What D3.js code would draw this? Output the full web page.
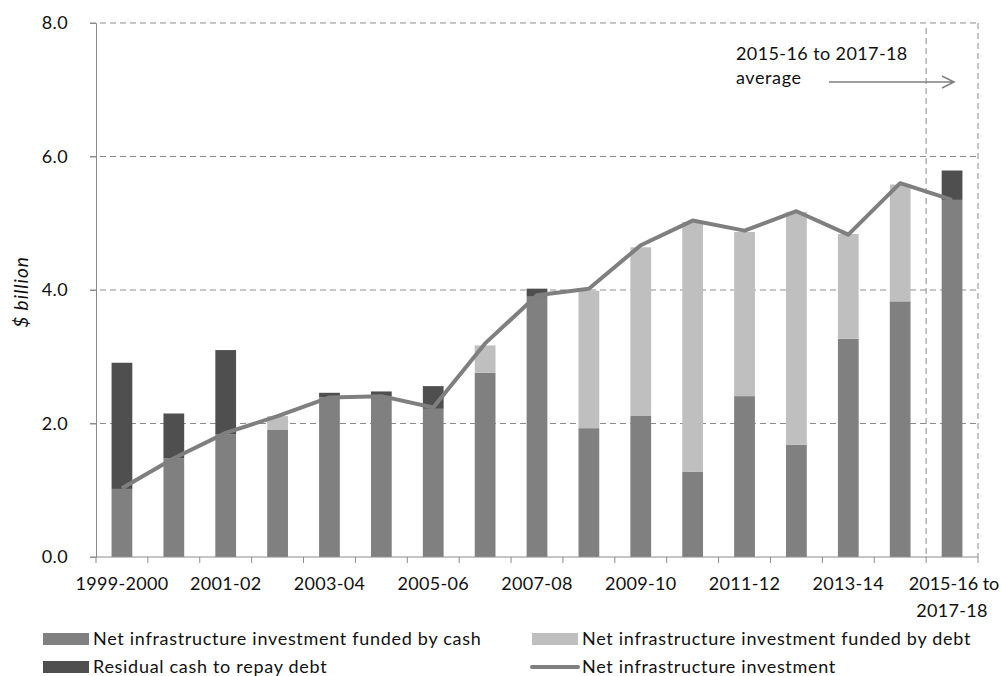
<!DOCTYPE html>
<html>
<head>
<meta charset="utf-8">
<script src="https://cdn.jsdelivr.net/npm/d3@7"></script>
<style>
  body { margin: 0; background: #fff; }
  svg { font-family: Lato, "Open Sans", sans-serif; }
</style>
</head>
<body>
<script>
// categories (financial years) and series, in $ billion
const categories = ['1999-2000', '2000-01', '2001-02', '2002-03', '2003-04', '2004-05',
  '2005-06', '2006-07', '2007-08', '2008-09', '2009-10', '2010-11', '2011-12',
  '2012-13', '2013-14', '2014-15', '2015-16 to 2017-18']
const fundedByCash = [1.02, 1.48, 1.84, 1.91, 2.39, 2.41, 2.22, 2.76, 3.90, 1.93, 2.12,
  1.28, 2.41, 1.68, 3.27, 3.83, 5.35]
const fundedByDebt = [0, 0, 0, 0.20, 0, 0, 0, 0.41, 0, 2.06, 2.52, 3.74, 2.46, 3.49,
  1.57, 1.75, 0]
const residualCash = [1.89, 0.67, 1.26, 0, 0.07, 0.07, 0.34, 0, 0.12, 0, 0, 0, 0, 0,
  0, 0, 0.44]
const netInvestment = [1.03, 1.48, 1.86, 2.11, 2.39, 2.41, 2.24, 3.20, 3.92, 4.02, 4.67,
  5.04, 4.89, 5.18, 4.83, 5.60, 5.35]
const yTicks = [0, 2, 4, 6, 8]
const labelledCategories = ['1999-2000', '2001-02', '2003-04', '2005-06', '2007-08',
  '2009-10', '2011-12', '2013-14']

const seriesNames = {
  cash: 'Net infrastructure investment funded by cash',
  debt: 'Net infrastructure investment funded by debt',
  residual: 'Residual cash to repay debt',
  net: 'Net infrastructure investment'
}
const colors = {cash: '#808080', debt: '#bfbfbf', residual: '#4f4f4f', net: '#7f7f7f'}

const width = 1001, height = 676
const margin = {top: 23, right: 23, bottom: 119, left: 96}

const svg = d3.select('body').append('svg')
  .attr('width', width)
  .attr('height', height)

// scales
const x = d3.scaleBand()
  .domain(categories)
  .range([margin.left, width - margin.right])
  .paddingInner(0.6)
  .paddingOuter(0.3)

const y = d3.scaleLinear()
  .domain([0, 8])
  .range([height - margin.bottom, margin.top])

const rows = categories.map((c, i) => ({
  cat: c, cash: fundedByCash[i], debt: fundedByDebt[i], residual: residualCash[i]
}))

// dashed gridlines
svg.append('g')
  .selectAll('line')
  .data(yTicks.filter(d => d > 0))
  .enter().append('line')
  .attr('x1', margin.left - 6)
  .attr('x2', width - margin.right)
  .attr('y1', d => y(d))
  .attr('y2', d => y(d))
  .attr('stroke', '#8c8c8c')
  .attr('stroke-width', 1)
  .attr('stroke-dasharray', '6,4')

// dashed box around the average column
const step = x.step()
const avgLeft = x(categories[categories.length - 1]) - step * x.paddingInner() / 2
svg.append('line')
  .attr('x1', avgLeft).attr('x2', avgLeft)
  .attr('y1', y(8) + 5).attr('y2', y(0))
  .attr('stroke', '#8c8c8c')
  .attr('stroke-dasharray', '6,4')
svg.append('line')
  .attr('x1', width - margin.right).attr('x2', width - margin.right)
  .attr('y1', y(8)).attr('y2', y(0))
  .attr('stroke', '#8c8c8c')
  .attr('stroke-dasharray', '6,4')

// stacked bars
const stack = d3.stack().keys(['cash', 'debt', 'residual'])
const layers = stack(rows)

svg.append('g')
  .selectAll('g')
  .data(layers)
  .enter().append('g')
  .attr('fill', d => colors[d.key])
  .selectAll('rect')
  .data(d => d)
  .enter().append('rect')
  .attr('x', d => x(d.data.cat))
  .attr('width', x.bandwidth())
  .attr('y', d => y(d[1]))
  .attr('height', d => y(d[0]) - y(d[1]))

// net investment line
const line = d3.line()
  .x((d, i) => x(categories[i]) + x.bandwidth() / 2)
  .y(d => y(d))

svg.append('path')
  .datum(netInvestment)
  .attr('d', line)
  .attr('fill', 'none')
  .attr('stroke', colors.net)
  .attr('stroke-width', 4)
  .attr('stroke-linejoin', 'round')

// y axis
const yAxis = svg.append('g')
  .attr('transform', 'translate(' + margin.left + ',0)')
  .call(d3.axisLeft(y).tickValues(yTicks).tickFormat(d3.format('.1f')).tickSize(6).tickPadding(22))
yAxis.select('.domain').attr('stroke', '#8c8c8c')
yAxis.selectAll('.tick line').attr('stroke', '#8c8c8c')
yAxis.selectAll('text')
  .attr('font-size', 18)
  .attr('letter-spacing', 0.4)
  .attr('fill', '#111')
  .attr('font-family', 'Lato, sans-serif')

svg.append('text')
  .attr('transform', 'translate(28,' + (y(4) + 2) + ') rotate(-90)')
  .attr('text-anchor', 'middle')
  .attr('font-size', 19)
  .attr('letter-spacing', 1)
  .attr('font-style', 'italic')
  .attr('fill', '#111')
  .text('$ billion')

// x axis: line, boundary ticks, labels
const xAxis = svg.append('g')
xAxis.append('line')
  .attr('x1', margin.left - 6)
  .attr('x2', width - margin.right)
  .attr('y1', y(0)).attr('y2', y(0))
  .attr('stroke', '#8c8c8c')

const boundaries = categories.map(c => x(c) - step * x.paddingInner() / 2)
boundaries.push(boundaries[boundaries.length - 1] + step)
xAxis.selectAll('.xtick')
  .data(boundaries)
  .enter().append('line')
  .attr('class', 'xtick')
  .attr('x1', d => d).attr('x2', d => d)
  .attr('y1', y(0)).attr('y2', y(0) + 6)
  .attr('stroke', '#8c8c8c')

xAxis.selectAll('.xlabel')
  .data(labelledCategories)
  .enter().append('text')
  .attr('class', 'xlabel')
  .attr('x', d => x(d) + x.bandwidth() / 2)
  .attr('y', y(0) + 33)
  .attr('text-anchor', 'middle')
  .attr('font-size', 18)
  .attr('letter-spacing', 0.3)
  .attr('fill', '#111')
  .text(d => d)

const lastCat = categories[categories.length - 1]
const lastLabel = xAxis.append('text')
  .attr('x', x(lastCat) + x.bandwidth() / 2)
  .attr('y', y(0) + 33)
  .attr('text-anchor', 'middle')
  .attr('font-size', 18)
  .attr('fill', '#111')
lastLabel.append('tspan')
  .attr('x', x(lastCat) + x.bandwidth() / 2 + 2)
  .text('2015-16 to')
lastLabel.append('tspan')
  .attr('x', x(lastCat) + x.bandwidth() / 2)
  .attr('dy', 27)
  .attr('letter-spacing', 0.3)
  .text('2017-18')

// annotation
svg.append('text')
  .attr('x', 736).attr('y', 60)
  .attr('font-size', 18)
  .attr('letter-spacing', 0.4)
  .attr('fill', '#111')
  .text('2015-16 to 2017-18')
svg.append('text')
  .attr('x', 736).attr('y', 84)
  .attr('font-size', 18)
  .attr('letter-spacing', 0.6)
  .attr('fill', '#111')
  .text('average')
svg.append('path')
  .attr('d', 'M829,82H954M942,76L954,82L942,88')
  .attr('fill', 'none')
  .attr('stroke', '#808080')
  .attr('stroke-width', 1.5)

// legend
const legendItems = [
  {key: 'cash', x: 43, y: 639, type: 'rect'},
  {key: 'debt', x: 532, y: 639, type: 'rect'},
  {key: 'residual', x: 43, y: 667, type: 'rect'},
  {key: 'net', x: 532, y: 667, type: 'line'}
]
const legend = svg.append('g')
  .selectAll('g')
  .data(legendItems)
  .enter().append('g')
  .attr('transform', d => 'translate(' + d.x + ',' + d.y + ')')

legend.filter(d => d.type === 'rect').append('rect')
  .attr('x', 0).attr('y', -6)
  .attr('width', 46).attr('height', 12)
  .attr('fill', d => colors[d.key])
legend.filter(d => d.type === 'line').append('line')
  .attr('x1', 0).attr('x2', 46)
  .attr('stroke', d => colors[d.key])
  .attr('stroke-width', 4)
  .attr('stroke-linecap', 'round')
legend.append('text')
  .attr('x', 50)
  .attr('dy', '0.35em')
  .attr('font-size', 18)
  .attr('letter-spacing', 0.7)
  .attr('fill', '#111')
  .text(d => seriesNames[d.key])
</script>
</body>
</html>
